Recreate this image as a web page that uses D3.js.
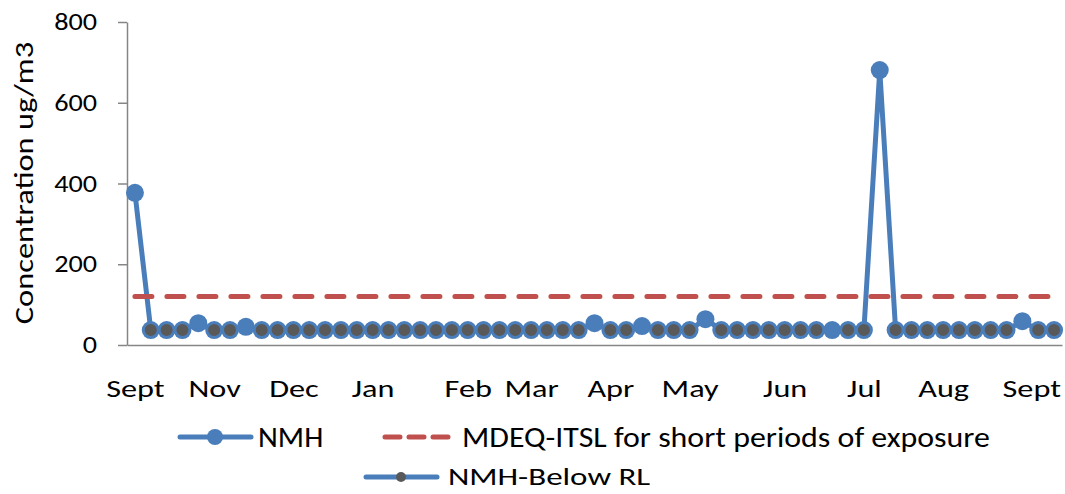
<!DOCTYPE html>
<html>
<head>
<meta charset="utf-8">
<script src="https://cdn.jsdelivr.net/npm/d3@7"></script>
<style>
  body { margin: 0; background: #fff; }
  svg text { font-family: Carlito, Calibri, Lato, sans-serif; fill: #000; }
</style>
</head>
<body>
<svg width="1065" height="494"></svg>
<script>
// NMH concentrations, one per sampling event (below-RL samples plotted at the RL)
const nmh = [377, 37, 37, 37, 54, 37, 37, 45, 37, 37,
             37, 37, 37, 37, 37, 37, 37, 37, 37, 37,
             37, 37, 37, 37, 37, 37, 37, 37, 37, 54,
             37, 37, 47, 37, 37, 37, 64, 37, 37, 37,
             37, 37, 37, 37, 37, 37, 37, 681, 37, 37,
             37, 37, 37, 37, 37, 37, 59, 37, 37];
// samples reported below the reporting limit
const belowRL = [null, 37, 37, 37, null, 37, 37, null, 37, 37,
                 37, 37, 37, 37, 37, 37, 37, 37, 37, 37,
                 37, 37, 37, 37, 37, 37, 37, 37, 37, null,
                 37, 37, null, 37, 37, 37, null, 37, 37, 37,
                 37, 37, 37, 37, null, 37, 37, null, 37, 37,
                 37, 37, 37, 37, 37, 37, null, 37, 37];
const itsl = 120;

// month labels and the sample index they sit on
const monthLabels = ["Sept", "Nov", "Dec", "Jan", "Feb", "Mar", "Apr", "May", "Jun", "Jul", "Aug", "Sept"];
const monthIndex  = [0, 5, 10, 15, 21, 25, 30, 35, 41, 46, 51, 57];
const yTicks = [0, 200, 400, 600, 800];

const blue = "#4a7ebb", red = "#c0504d", gray = "#595959", axisGray = "#868686";

const svg = d3.select("svg");
svg.append("rect").attr("width", 1065).attr("height", 494).attr("fill", "#fff");

// the original font is a wide Calibri; stretch Lato sideways to match
function stretch(sel, k) {
  sel.each(function() {
    const w = this.getComputedTextLength();
    d3.select(this).attr("textLength", w * k).attr("lengthAdjust", "spacingAndGlyphs");
  });
}

const x = d3.scalePoint().domain(d3.range(nmh.length)).range([127, 1062]).padding(0.5);
const y = d3.scaleLinear().domain([0, 800]).range([345, 22]);

// y axis
const yAxis = svg.append("g")
  .attr("transform", "translate(127,0)")
  .call(d3.axisLeft(y).tickValues(yTicks).tickSize(9).tickSizeOuter(0).tickPadding(21));
yAxis.selectAll("path, line").attr("stroke", axisGray).attr("stroke-width", 1.5);
yAxis.selectAll("text").attr("font-size", 23.5).attr("font-family", null).call(stretch, 1.2);

// x axis
const labelOf = new Map(monthIndex.map((d, i) => [d, monthLabels[i]]));
const xAxis = svg.append("g")
  .attr("transform", "translate(0,345)")
  .call(d3.axisBottom(x).tickValues(monthIndex).tickSize(0).tickPadding(34)
    .tickFormat(d => labelOf.get(d)));
xAxis.select("path").attr("stroke", axisGray).attr("stroke-width", 1.5);
xAxis.selectAll("text").attr("font-size", 25).attr("font-family", null).call(stretch, 1.29);
// keep the last label inside the chart
xAxis.selectAll(".tick text").each(function() {
  const t = this.parentNode.getAttribute("transform");
  const tx = +t.match(/translate\(([\d.]+)/)[1];
  const w = +this.getAttribute("textLength");
  if (tx + w / 2 > 1061) d3.select(this).attr("dx", 1061 - (tx + w / 2));
});

// y title
svg.append("text")
  .attr("transform", "translate(33,183) rotate(-90)")
  .attr("text-anchor", "middle")
  .attr("font-size", 27)
  .text("Concentration ug/m3")
  .call(stretch, 1.2);

const line = d3.line().x((d, i) => x(i)).y(d => y(d));

// NMH series
svg.append("path")
  .datum(nmh)
  .attr("d", line)
  .attr("fill", "none").attr("stroke", blue).attr("stroke-width", 5)
  .attr("stroke-linejoin", "round");
svg.append("g").selectAll("circle")
  .data(nmh)
  .join("circle")
  .attr("cx", (d, i) => x(i)).attr("cy", d => y(d)).attr("r", 9)
  .attr("fill", blue);

// MDEQ-ITSL line
svg.append("path")
  .datum(nmh.map(() => itsl))
  .attr("d", line)
  .attr("fill", "none").attr("stroke", red).attr("stroke-width", 5)
  .attr("stroke-linecap", "round").attr("stroke-dasharray", "17 15");

// NMH below RL markers
svg.append("g").selectAll("circle")
  .data(belowRL.map((v, i) => ({ v, i })).filter(d => d.v !== null))
  .join("circle")
  .attr("cx", d => x(d.i)).attr("cy", d => y(d.v)).attr("r", 7)
  .attr("fill", gray).attr("stroke", blue).attr("stroke-width", 2);

// legend
const leg = svg.append("g");
// NMH
leg.append("line").attr("x1", 180).attr("x2", 251).attr("y1", 437).attr("y2", 437)
  .attr("stroke", blue).attr("stroke-width", 5).attr("stroke-linecap", "round");
leg.append("circle").attr("cx", 215).attr("cy", 437).attr("r", 8).attr("fill", blue);
leg.append("text").attr("x", 258).attr("y", 447).attr("font-size", 29).text("NMH")
  .call(stretch, 1.06);
// ITSL
leg.append("line").attr("x1", 385).attr("x2", 457).attr("y1", 437).attr("y2", 437)
  .attr("stroke", red).attr("stroke-width", 5).attr("stroke-linecap", "round")
  .attr("stroke-dasharray", "15 9");
leg.append("text").attr("x", 462).attr("y", 447).attr("font-size", 29)
  .text("MDEQ-ITSL for short periods of exposure")
  .call(stretch, 1.1);
// Below RL
leg.append("line").attr("x1", 366).attr("x2", 437).attr("y1", 477).attr("y2", 477)
  .attr("stroke", blue).attr("stroke-width", 5).attr("stroke-linecap", "round");
leg.append("circle").attr("cx", 401).attr("cy", 477).attr("r", 5).attr("fill", gray);
leg.append("text").attr("x", 448).attr("y", 485).attr("font-size", 25).text("NMH-Below RL")
  .call(stretch, 1.32);
</script>
</body>
</html>
